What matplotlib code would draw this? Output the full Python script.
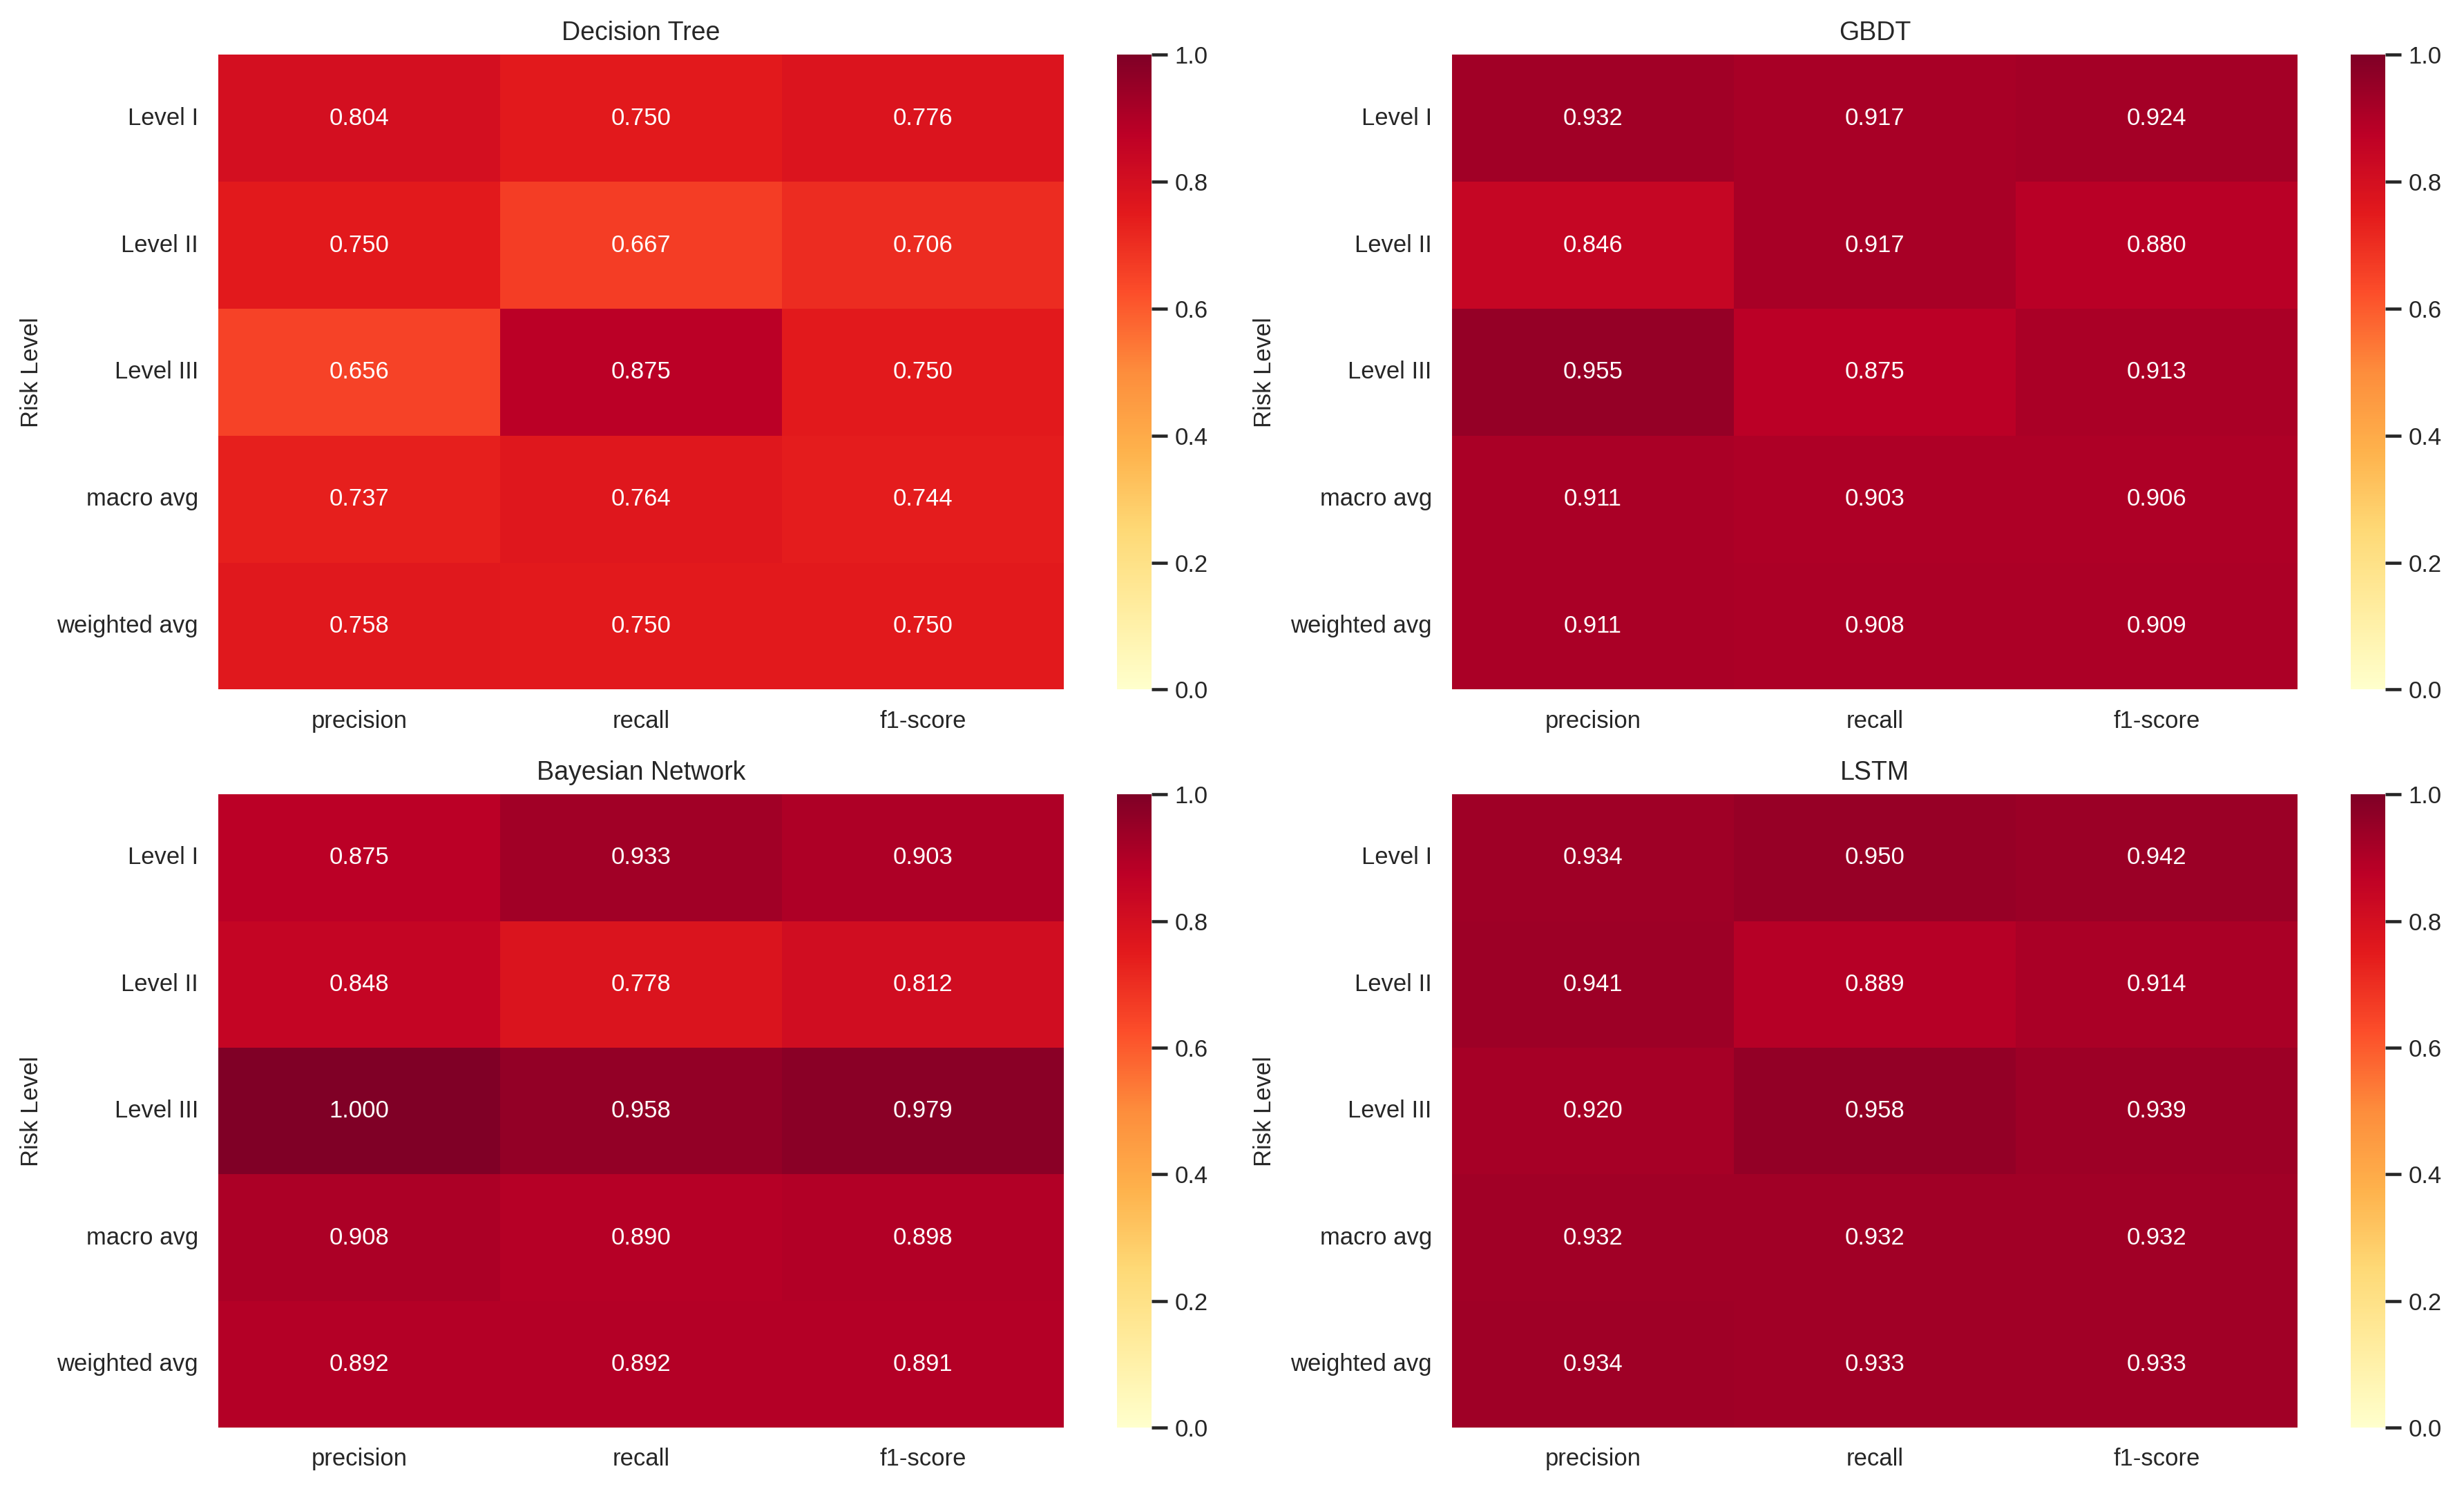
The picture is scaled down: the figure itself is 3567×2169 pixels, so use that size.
import matplotlib as mpl

mpl.use("Agg")

import matplotlib.pyplot as plt
import numpy as np
import seaborn as sns

metrics = ["precision", "recall", "f1-score"]
levels = ["Level I", "Level II", "Level III", "macro avg", "weighted avg"]

decision_tree = [
    [0.804, 0.750, 0.776],
    [0.750, 0.667, 0.706],
    [0.656, 0.875, 0.750],
    [0.737, 0.764, 0.744],
    [0.758, 0.750, 0.750],
]
gbdt = [
    [0.932, 0.917, 0.924],
    [0.846, 0.917, 0.880],
    [0.955, 0.875, 0.913],
    [0.911, 0.903, 0.906],
    [0.911, 0.908, 0.909],
]
bayesian_network = [
    [0.875, 0.933, 0.903],
    [0.848, 0.778, 0.812],
    [1.000, 0.958, 0.979],
    [0.908, 0.890, 0.898],
    [0.892, 0.892, 0.891],
]
lstm = [
    [0.934, 0.950, 0.942],
    [0.941, 0.889, 0.914],
    [0.920, 0.958, 0.939],
    [0.932, 0.932, 0.932],
    [0.934, 0.933, 0.933],
]

models = ["Decision Tree", "GBDT", "Bayesian Network", "LSTM"]
scores = [decision_tree, gbdt, bayesian_network, lstm]
cbar_ticks = [0.0, 0.2, 0.4, 0.6, 0.8, 1.0]

sns.set_style("ticks")
plt.rcParams["font.family"] = ["Liberation Sans", "DejaVu Sans"]
plt.rcParams["ytick.major.size"] = 5
plt.rcParams["ytick.major.width"] = 1.1
plt.rcParams["ytick.color"] = "#262626"
plt.rcParams["ytick.right"] = True
FS = 8.3

W, H = 1568.0, 958.0
fig = plt.figure(figsize=(3567 / 300, 2169 / 300), dpi=300)
fig.patch.set_facecolor("white")

# panel boxes measured in display pixels (left, right, colorbar left) / (top, bottom)
cols = [(139, 677, 711), (924, 1462, 1496)]
rows = [(35, 441), (508, 913)]

for k, (name, data) in enumerate(zip(models, scores)):
    r, c = divmod(k, 2)
    x0, x1, cx = cols[c]
    y0, y1 = rows[r]
    ax = fig.add_axes([x0 / W, 1 - y1 / H, (x1 - x0) / W, (y1 - y0) / H])
    cax = fig.add_axes([cx / W, 1 - y1 / H, 22 / W, (y1 - y0) / H])
    sns.heatmap(
        np.array(data),
        ax=ax,
        cbar=False,
        cmap="YlOrRd",
        vmin=0,
        vmax=1,
        annot=True,
        fmt=".3f",
        annot_kws={"fontsize": FS, "color": "white"},
        xticklabels=metrics,
        yticklabels=levels,
    )
    cb = fig.colorbar(ax.collections[0], cax=cax, ticks=cbar_ticks)
    cb.outline.set_linewidth(0)
    cb.ax.tick_params(axis="y", which="major", right=True, left=False, length=5.5, width=1.1,
                      direction="out", color="#262626", pad=2.5,
                      labelsize=FS, labelcolor="#262626")

    ax.set_title(name, fontsize=9, color="#262626", pad=5)
    ax.set_ylabel("Risk Level", fontsize=FS, color="#262626", labelpad=5)
    ax.tick_params(axis="both", left=False, right=False, bottom=False, length=0, pad=7,
                   labelsize=FS, labelcolor="#262626")
    ax.tick_params(axis="y", rotation=0)

fig.savefig("out.png", dpi=300, facecolor="white")
